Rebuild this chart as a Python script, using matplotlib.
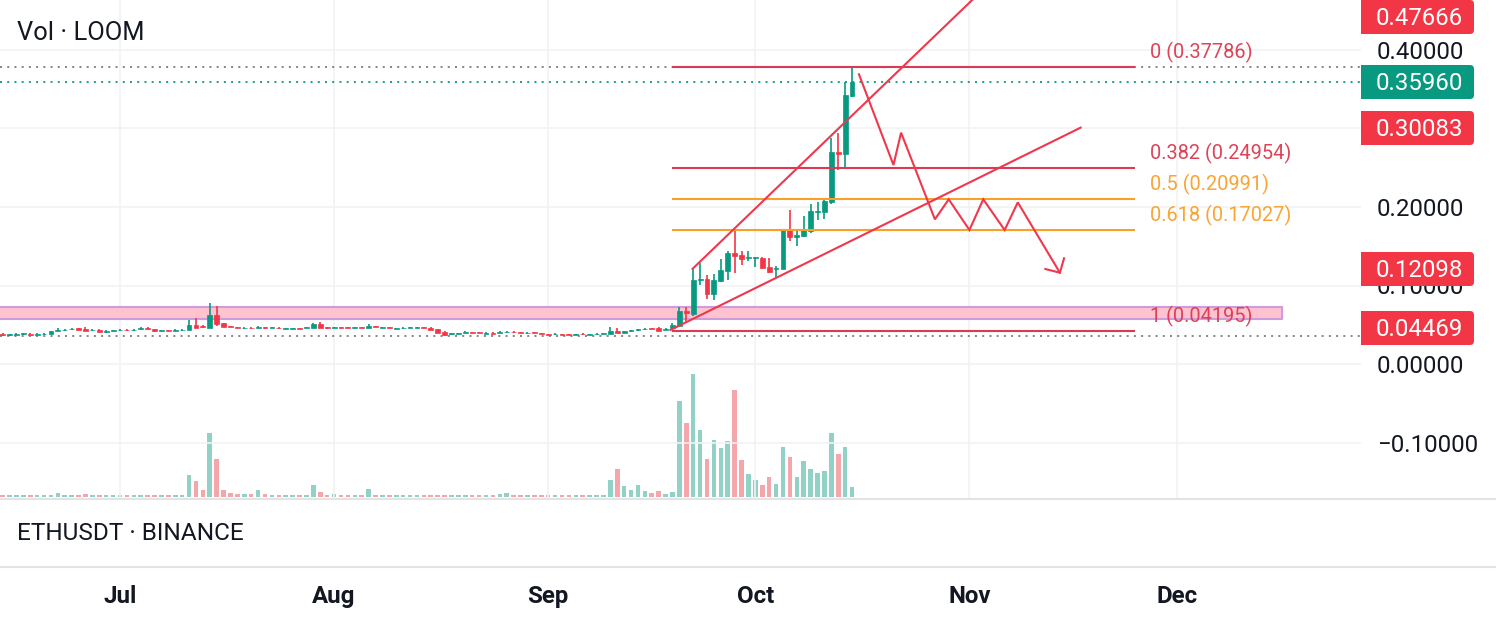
import matplotlib
matplotlib.use("Agg")
import matplotlib.pyplot as plt
from matplotlib.patches import FancyBboxPatch, Rectangle

plt.rcParams['font.family'] = ['Roboto', 'DejaVu Sans']

W, H = 1496, 622
GREEN, RED = '#089981', '#F23645'
GREEN_V, RED_V = '#92D1C6', '#F5A6AB'
LINE_RED, FIB_RED, ORANGE = '#F0384C', '#DB3A50', '#F9A02B'
INK = '#131722'

# days since 1 July, one candle per day
first_day = -17
opens = [.0386,.0369,.0373,.0377,.0386,.0373,.0378,.0386,.0420,.0428,.0441,.0458,.0445,.0429,.0437,.0412,.0420,
 .0429,.0437,.0429,.0441,.0458,.0441,.0420,.0432,.0424,.0429,.0433,.0497,.0479,.0462,.0624,.0522,.0479,.0471,.0454,.0462,
 .0458,.0466,.0463,.0462,.0446,.0450,.0458,.0458,.0462,.0505,.0466,.0458,
 .0471,.0470,.0464,.0467,.0463,.0480,.0464,.0467,.0451,.0455,.0460,.0464,.0470,.0463,.0441,.0407,.0383,.0387,.0398,.0402,.0402,.0387,.0393,.0399,.0403,.0411,.0402,.0392,.0402,.0393,.0376,.0379,.0381,.0381,.0370,.0385,.0370,.0379,
 .0384,.0386,.0424,.0399,.0416,.0434,.0443,.0453,.0454,.0433,.0455,.0488,.0679,.0637,.1070,.1083,.0887,.1057,.1189,.1418,.1388,.1346,.1350,.1355,.1231,.1206,.1210,.1715,.1622,.1630,.1694,.1941,.1941,.2068,.2701,.2675,.3414]
closes = [.0365,.0377,.0381,.0390,.0369,.0381,.0386,.0420,.0433,.0437,.0449,.0437,.0424,.0437,.0411,.0420,.0428,
 .0437,.0429,.0437,.0454,.0445,.0416,.0428,.0424,.0432,.0437,.0497,.0462,.0471,.0624,.0505,.0475,.0471,.0463,.0462,.0454,
 .0466,.0458,.0471,.0454,.0454,.0458,.0450,.0466,.0513,.0462,.0458,.0466,
 .0463,.0464,.0470,.0459,.0484,.0471,.0470,.0459,.0457,.0461,.0466,.0470,.0464,.0433,.0399,.0373,.0389,.0393,.0407,.0396,.0396,.0393,.0387,.0407,.0411,.0403,.0396,.0398,.0396,.0387,.0370,.0385,.0375,.0375,.0376,.0379,.0376,.0385,
 .0390,.0424,.0399,.0416,.0433,.0440,.0449,.0447,.0424,.0450,.0497,.0679,.0645,.1070,.1087,.0892,.1070,.1197,.1418,.1380,.1338,.1367,.1367,.1219,.1172,.1219,.1724,.1613,.1643,.1707,.1949,.1953,.2081,.2696,.2675,.3427,.3596]
highs = [.0390,.0386,.0390,.0396,.0392,.0390,.0394,.0424,.0454,.0441,.0454,.0462,.0467,.0441,.0441,.0433,.0433,
 .0441,.0441,.0441,.0467,.0471,.0445,.0433,.0437,.0441,.0441,.0560,.0581,.0497,.0781,.0739,.0526,.0484,.0475,.0467,.0467,
 .0484,.0471,.0475,.0467,.0458,.0462,.0462,.0471,.0518,.0530,.0471,.0471,
 .0475,.0475,.0475,.0471,.0505,.0484,.0475,.0471,.0462,.0467,.0471,.0475,.0475,.0467,.0446,.0416,.0399,.0399,.0416,.0407,.0407,.0403,.0403,.0416,.0420,.0416,.0407,.0403,.0407,.0399,.0382,.0390,.0386,.0386,.0382,.0390,.0382,.0390,
 .0395,.0475,.0458,.0424,.0437,.0450,.0458,.0462,.0475,.0455,.0518,.0722,.0730,.1210,.1282,.1134,.1142,.1333,.1439,.1694,.1439,.1439,.1367,.1367,.1346,.1248,.1724,.1962,.1707,.1885,.2034,.2068,.2110,.2875,.2938,.3597,.3788]
lows = [.0361,.0361,.0365,.0369,.0365,.0365,.0370,.0382,.0416,.0424,.0437,.0433,.0420,.0424,.0407,.0394,.0416,
 .0424,.0424,.0424,.0437,.0437,.0412,.0416,.0416,.0416,.0424,.0429,.0458,.0454,.0458,.0484,.0471,.0467,.0458,.0450,.0450,
 .0454,.0450,.0458,.0450,.0441,.0445,.0445,.0454,.0458,.0458,.0450,.0454,
 .0458,.0458,.0458,.0458,.0458,.0467,.0458,.0454,.0446,.0450,.0454,.0458,.0458,.0429,.0395,.0356,.0373,.0378,.0390,.0390,.0390,.0378,.0378,.0395,.0399,.0399,.0390,.0386,.0390,.0382,.0365,.0373,.0369,.0369,.0365,.0373,.0365,.0373,
 .0382,.0382,.0390,.0395,.0412,.0424,.0433,.0441,.0420,.0428,.0442,.0476,.0539,.0612,.1006,.0828,.0815,.1049,.1070,.1163,.1261,.1316,.1240,.1206,.1163,.1104,.1210,.1567,.1507,.1622,.1665,.1834,.1843,.2034,.2471,.2480,.3397]
volumes = [1.3,1.3,1.3,1.3,1.3,1.3,1.3,1.3,3.3,1.3,1.3,1.3,2.3,1.3,1.3,1.3,1.3,
 1.3,1.3,1.3,1.3,1.3,1.3,1.3,1.3,1.3,1.3,21.7,15.7,6.7,63.7,37.7,6.3,3.7,2.7,2.7,2.7,
 6.3,2.7,1.3,1.3,1.3,1.3,1.3,1.3,11.3,4.7,1.5,2.7,
 1.3,1.3,1.3,1.3,7.7,1.3,1.3,1.3,1.3,1.3,1.3,1.3,1.3,1.3,1.3,1.3,1.3,1.3,1.3,1.3,1.3,1.3,1.3,2.5,3.5,1.3,1.3,1.3,1.3,1.3,1.3,1.3,1.3,1.3,1.3,1.3,1.3,1.3,
 1.7,16.7,27.3,10.7,6.7,11.7,5.7,3.7,5.7,2.7,5.0,95.7,73.7,122.7,66.7,37.7,56.7,48.7,55.7,106.7,36.7,22.7,16.7,11.7,19.7,12.7,49.7,39.7,19.7,35.7,27.7,23.7,25.7,63.7,42.7,49.7,9.7]

price_ticks = [0.4, 0.3, 0.2, 0.1, 0.0, -0.1]
price_tick_labels = ['0.40000', '', '0.20000', '0.10000', '0.00000', '\u22120.10000']
month_days = [0, 31, 62, 92, 123, 153]
month_labels = ['Jul', 'Aug', 'Sep', 'Oct', 'Nov', 'Dec']

fib_levels = [0.37786, 0.24954, 0.20991, 0.17027, 0.04195]
fib_names = ['0 (0.37786)', '0.382 (0.24954)', '0.5 (0.20991)', '0.618 (0.17027)', '1 (0.04195)']
fib_colors = [FIB_RED, FIB_RED, ORANGE, ORANGE, FIB_RED]
fib_start, fib_end = 79.93, 147

zone_start, zone_low, zone_high, zone_end = -30, 0.0567, 0.0726, 168.2
last_dotted = [(0.3779, '#787B86'), (0.3592, GREEN), (0.0357, '#787B86')]

channel_upper_x = [82.9, 123.4]
channel_upper_y = [0.1212, 0.4637]
channel_lower_x = [79.7, 139.1]
channel_lower_y = [0.0433, 0.3011]
path_x = [107.0, 112.0, 113.1, 118.0, 120.0, 123.0, 125.0, 128.1, 130.0, 136.1]
path_y = [0.3691, 0.2535, 0.2947, 0.1843, 0.2098, 0.1707, 0.2098, 0.1707, 0.2059, 0.1163]
head_x = [136.7, 136.1, 134.0]
head_y = [0.1347, 0.1163, 0.1210]

price_boxes = [('0.47666', 17, RED), ('0.35960', 82, GREEN), ('0.30083', 128, RED),
               ('0.12098', 269, RED), ('0.04469', 328, RED)]

# ---- figure and panes ----
fig = plt.figure(figsize=(W/100, H/100), dpi=100, facecolor='white')
PXPD = 6.906
ax = fig.add_axes([0, (H-499)/H, 1361/W, 499/H], zorder=1)
ax.set_xlim(-120/PXPD, (1361-120)/PXPD)
ax.set_ylim(-135/785, 364/785)
for s in ax.spines.values():
    s.set_visible(False)

vol_ax = ax.twinx()
vol_ax.set_ylim(-2.3, 496.7)
vol_ax.axis('off')
vol_ax.set_zorder(0)
ax.set_zorder(1)
ax.patch.set_alpha(0)

ax.yaxis.tick_right()
ax.set_yticks(price_ticks, price_tick_labels, fontsize=17.3, color=INK)
ax.tick_params(axis='y', length=0, pad=11.6)
ax.set_xticks(month_days, [''] * len(month_days))
ax.tick_params(axis='x', length=0)
ax.grid(True, color='#F1F2F4', lw=1.2)
ax.set_axisbelow(True)

days = list(range(first_day, first_day + len(opens)))
assert len(opens) == len(closes) == len(highs) == len(lows) == len(volumes)
up = [c >= o for o, c in zip(opens, closes)]

vol_ax.bar(days, volumes, width=0.66, color=[GREEN_V if u else RED_V for u in up], lw=0)

ax.fill_between([zone_start, zone_end], zone_low, zone_high, facecolor='#FFC2CF',
                edgecolor='#CE9BDC', lw=1.5, zorder=2)

ax.vlines(days, lows, highs, colors=[GREEN if u else RED for u in up], lw=1.2, zorder=3)
ax.bar(days, [abs(c-o) for o, c in zip(opens, closes)], bottom=[min(o, c) for o, c in zip(opens, closes)],
       width=0.7, color=[GREEN if u else RED for u in up],
       edgecolor=[GREEN if u else RED for u in up], lw=0.5, zorder=3)

for level, color in last_dotted:
    ax.axhline(level, color=color, lw=1.3, ls=(0, (1.1, 2.9)), zorder=2.5)

for level, color in zip(fib_levels, fib_colors):
    ax.plot([fib_start, fib_end], [level, level], color=color, lw=1.5, zorder=4, solid_capstyle='butt')
for level, name, color in zip(fib_levels, fib_names, fib_colors):
    ax.annotate(name, (fib_end, level), xytext=(15, 15), textcoords='offset pixels',
                fontsize=14.4, color=color, ha='left', va='center', zorder=6, alpha=0.95)

for xs, ys in [(channel_upper_x, channel_upper_y), (channel_lower_x, channel_lower_y),
               (path_x, path_y), (head_x, head_y)]:
    ax.plot(xs, ys, color=LINE_RED, lw=1.5, zorder=5, solid_joinstyle='miter')

# ---- overlay in pixel space for pane furniture ----
ov = fig.add_axes([0, 0, 1, 1], zorder=5)
ov.set_xlim(0, W)
ov.set_ylim(H, 0)
ov.axis('off')
ov.patch.set_alpha(0)

ov.hlines([499, 567], 0, W, color='#E3E3E3', lw=1.5)
for text, yc, color in price_boxes:
    ov.add_patch(Rectangle((1361, yc-17), 108, 34, fc=color, ec='none'))
    ov.add_patch(FancyBboxPatch((1440, yc-17), 34, 34, boxstyle='round,pad=0,rounding_size=4',
                                fc=color, ec='none'))
    ov.text(1376, yc+1.5, text, color='white', fontsize=17.3, ha='left', va='center')

ov.text(17, 33.5, 'Vol \u00b7 LOOM', color=INK, fontsize=18.4, ha='left', va='center')
ov.text(17, 533.5, 'ETHUSDT \u00b7 BINANCE', color=INK, fontsize=17.6, ha='left', va='center')
for d, m in zip(month_days, month_labels):
    ov.text(120 + PXPD*d, 596.5, m, color=INK, fontsize=17.3, fontweight='bold', ha='center', va='center')

fig.savefig('out.png', dpi=100, facecolor='white')
